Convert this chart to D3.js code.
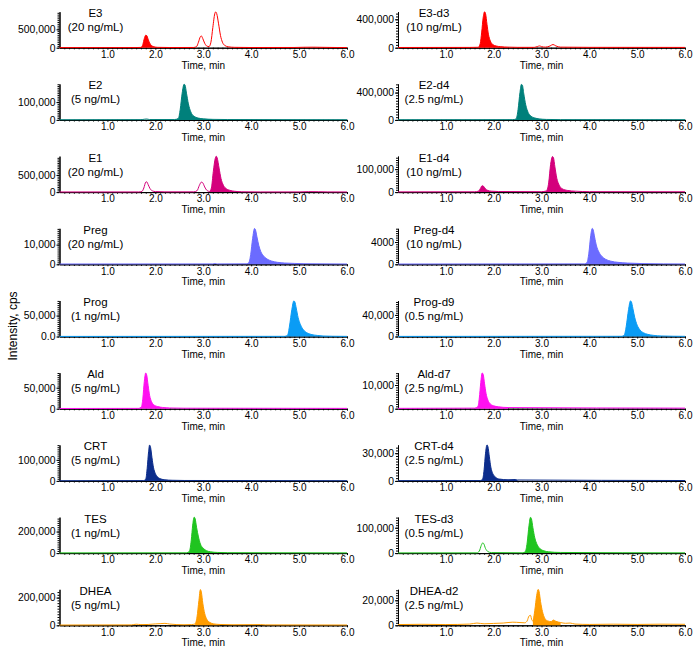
<!DOCTYPE html>
<html>
<head>
<meta charset="utf-8">
<script src="https://cdn.jsdelivr.net/npm/d3@7"></script>
<style>
body { margin: 0; background: #fff; }
text { font-family: "Liberation Sans", Arial, sans-serif; fill: #000; }
</style>
</head>
<body>
<script>
// SVG Dimensions
var width = 694;
var height = 647;
var colLeft = [59.5, 398];
var colRight = [347, 685];
var baseline0 = 47.7;
var rowStep = 72.2;
var plotHeight = 36;

// panels, row by row (analyte left, internal standard right)
var panelNames = ["E3", "E3-d3", "E2", "E2-d4", "E1", "E1-d4", "Preg", "Preg-d4", "Prog", "Prog-d9",
                  "Ald", "Ald-d7", "CRT", "CRT-d4", "TES", "TES-d3", "DHEA", "DHEA-d2"];
var panelConc = ["(20 ng/mL)", "(10 ng/mL)", "(5 ng/mL)", "(2.5 ng/mL)", "(20 ng/mL)", "(10 ng/mL)",
                 "(20 ng/mL)", "(10 ng/mL)", "(1 ng/mL)", "(0.5 ng/mL)", "(5 ng/mL)", "(2.5 ng/mL)",
                 "(5 ng/mL)", "(2.5 ng/mL)", "(1 ng/mL)", "(0.5 ng/mL)", "(5 ng/mL)", "(2.5 ng/mL)"];
var panelColors = ["#ff0000", "#ff0000", "#00807b", "#00807b", "#d4007c", "#d4007c", "#6b6bff", "#6b6bff",
                   "#0a9cf5", "#0a9cf5", "#ff10f0", "#ff10f0", "#0c2d8c", "#0c2d8c", "#20c420", "#20c420",
                   "#ff9c00", "#ff9c00"];
var yMaxValues = [980000, 507000, 202000, 527000, 1050000, 157000, 18300, 6470, 86000, 66700,
                  85700, 15200, 171000, 39000, 334000, 142000, 260000, 28800];
var yTickValues = [500000, 400000, 100000, 400000, 500000, 100000, 10000, 4000, 50000, 40000,
                   50000, 10000, 100000, 30000, 200000, 100000, 200000, 20000];
var yTickLabels = ["500,000", "400,000", "100,000", "400,000", "500,000", "100,000", "10,000", "4000",
                   "50,000", "40,000", "50,000", "10,000", "100,000", "30,000", "200,000", "100,000",
                   "200,000", "20,000"];
var zeroLabels = ["0", "0", "0", "0", "0", "0", "0", "0", "0.0", "0", "0", "0", "0", "0", "0", "0", "0", "0"];
var xTickValues = [1, 2, 3, 4, 5, 6];

// integrated (filled) time windows, min
var fillRanges = [[[1.68, 2.2]], [[1.65, 2.4]], [[2.4, 3.3]], [[2.4, 3.3]], [[3.13, 3.8]], [[1.6, 2.1], [3.0, 3.8]],
                  [[3.9, 5.2]], [[3.9, 5.2]], [[4.7, 5.8]], [[4.68, 5.7]], [[1.65, 2.4]], [[1.6, 2.3]],
                  [[1.75, 2.6]], [[1.72, 2.5]], [[2.65, 3.5]], [[2.6, 3.5]], [[2.8, 3.4]], [[2.82, 3.4]]];

// chromatogram traces: [time (min), intensity (cps)]
var traceE3 = [[0,3e3],[1.6,4e3],[1.70,8e3],[1.74,90e3],[1.77,250e3],[1.80,340e3],[1.82,330e3],[1.85,230e3],
  [1.88,130e3],[1.92,60e3],[1.97,25e3],[2.05,10e3],[2.3,5e3],[2.8,6e3],[2.86,30e3],[2.90,150e3],[2.94,300e3],
  [2.96,320e3],[2.99,250e3],[3.03,120e3],[3.08,40e3],[3.12,30e3],[3.16,150e3],[3.20,550e3],[3.24,920e3],
  [3.26,975e3],[3.28,930e3],[3.32,650e3],[3.36,330e3],[3.40,150e3],[3.45,60e3],[3.52,25e3],[3.65,10e3],
  [4.0,5e3],[4.9,6e3],[5.1,12e3],[5.3,14e3],[5.5,10e3],[5.8,5e3],[6,4e3]];
var traceE3d3 = [[0,3e3],[1.5,4e3],[1.68,6e3],[1.72,60e3],[1.75,220e3],[1.78,420e3],[1.81,505e3],[1.83,480e3],
  [1.86,330e3],[1.89,190e3],[1.93,95e3],[1.98,45e3],[2.05,24e3],[2.15,14e3],[2.3,8e3],[2.5,5e3],[2.85,5e3],
  [2.92,18e3],[2.96,25e3],[3.0,15e3],[3.08,8e3],[3.18,25e3],[3.24,45e3],[3.3,25e3],[3.4,8e3],[4,5e3],[6,4e3]];
var traceE2 = [[0,1e3],[1.7,1.5e3],[1.78,4e3],[1.82,5e3],[1.88,2e3],[2.4,2e3],[2.48,8e3],[2.52,60e3],
  [2.56,150e3],[2.60,200e3],[2.62,195e3],[2.65,150e3],[2.69,90e3],[2.74,45e3],[2.8,22e3],[2.9,10e3],
  [3.0,6e3],[3.2,3e3],[3.5,2e3],[6,1e3]];
var traceE2d4 = [[0,3e3],[2.4,4e3],[2.47,15e3],[2.51,150e3],[2.55,400e3],[2.58,520e3],[2.60,510e3],
  [2.63,380e3],[2.67,220e3],[2.72,110e3],[2.78,55e3],[2.86,28e3],[2.95,15e3],[3.1,7e3],[3.4,4e3],[6,3e3]];
var traceE1 = [[0,4e3],[1.65,5e3],[1.72,20e3],[1.76,120e3],[1.80,290e3],[1.82,300e3],[1.85,220e3],[1.89,100e3],
  [1.94,35e3],[2.0,15e3],[2.2,8e3],[2.8,8e3],[2.87,40e3],[2.92,200e3],[2.96,290e3],[2.99,270e3],[3.03,150e3],
  [3.08,45e3],[3.13,20e3],[3.17,120e3],[3.21,600e3],[3.25,980e3],[3.27,1045e3],[3.29,1000e3],[3.33,700e3],
  [3.37,400e3],[3.42,200e3],[3.48,100e3],[3.56,50e3],[3.65,25e3],[3.8,10e3],[4.2,5e3],[5.0,6e3],[5.2,14e3],
  [5.4,12e3],[5.6,6e3],[6,4e3]];
var traceE1d4 = [[0,1e3],[1.6,1.5e3],[1.68,4e3],[1.72,15e3],[1.76,28e3],[1.79,25e3],[1.83,14e3],[1.88,7e3],
  [1.95,4e3],[2.1,2.5e3],[3.0,2e3],[3.1,5e3],[3.15,40e3],[3.19,120e3],[3.23,155e3],[3.25,150e3],[3.28,110e3],
  [3.32,60e3],[3.37,30e3],[3.43,15e3],[3.55,7e3],[3.7,4e3],[4,2e3],[6,1.5e3]];
var tracePreg = [[0,150],[3.2,200],[3.25,400],[3.3,200],[3.9,250],[3.95,800],[3.99,5000],[4.03,13000],
  [4.07,18200],[4.09,17500],[4.12,14000],[4.16,9500],[4.2,6500],[4.26,4200],[4.33,2700],[4.42,1700],
  [4.55,1000],[4.7,650],[4.9,450],[5.1,300],[6,150]];
var tracePregd4 = [[0,50],[3.9,80],[3.95,300],[3.99,2000],[4.03,5200],[4.06,6450],[4.08,6200],[4.11,4900],
  [4.15,3300],[4.2,2200],[4.26,1450],[4.34,900],[4.45,560],[4.6,350],[4.8,220],[5.1,130],[6,60]];
var traceProg = [[0,200],[4.7,400],[4.76,3e3],[4.8,25e3],[4.85,65e3],[4.89,85e3],[4.91,83e3],[4.94,68e3],
  [4.98,45e3],[5.03,28e3],[5.09,16e3],[5.16,9e3],[5.25,5e3],[5.38,2.5e3],[5.5,1.2e3],[5.7,600],[6,300]];
var traceProgd9 = [[0,200],[4.68,400],[4.73,2.5e3],[4.77,18e3],[4.82,50e3],[4.86,66e3],[4.88,64e3],
  [4.91,52e3],[4.95,35e3],[5.0,21e3],[5.06,12e3],[5.13,7e3],[5.22,4e3],[5.35,2e3],[5.5,1e3],[6,300]];
var traceAld = [[0,500],[1.65,800],[1.71,4e3],[1.74,25e3],[1.77,65e3],[1.80,85e3],[1.82,80e3],[1.85,55e3],
  [1.88,32e3],[1.92,17e3],[1.97,9e3],[2.05,5e3],[2.15,3e3],[2.3,1.8e3],[2.6,1.2e3],[6,800]];
var traceAldd7 = [[0,150],[1.6,250],[1.67,900],[1.70,4500],[1.73,11000],[1.76,15100],[1.78,14500],
  [1.81,10500],[1.84,6500],[1.88,3600],[1.93,2000],[2.0,1200],[2.1,800],[2.3,500],[6,250]];
var traceCRT = [[0,1e3],[1.75,1.5e3],[1.80,8e3],[1.83,60e3],[1.86,140e3],[1.88,170e3],[1.90,160e3],
  [1.93,110e3],[1.96,65e3],[2.0,35e3],[2.05,18e3],[2.12,9e3],[2.2,5e3],[2.35,3e3],[2.6,2e3],[6,1e3]];
var traceCRTd4 = [[0,300],[1.72,400],[1.77,2e3],[1.80,12e3],[1.83,30e3],[1.86,39e3],[1.88,37e3],[1.91,26e3],
  [1.94,15e3],[1.98,8e3],[2.04,4e3],[2.12,2e3],[2.3,1.2e3],[2.45,1.5e3],[2.5,1e3],[6,400]];
var traceTES = [[0,2e3],[2.65,3e3],[2.71,15e3],[2.75,120e3],[2.78,260e3],[2.81,333e3],[2.83,320e3],
  [2.86,240e3],[2.9,150e3],[2.94,85e3],[3.0,45e3],[3.07,22e3],[3.15,12e3],[3.3,6e3],[3.5,4e3],[6,2e3]];
var traceTESd3 = [[0,800],[1.65,1e3],[1.7,8e3],[1.74,30e3],[1.77,40e3],[1.79,38e3],[1.83,18e3],[1.88,6e3],
  [1.95,2e3],[2.6,1.2e3],[2.66,5e3],[2.7,40e3],[2.74,110e3],[2.77,141e3],[2.79,135e3],[2.82,100e3],
  [2.86,60e3],[2.91,33e3],[2.97,17e3],[3.05,9e3],[3.15,5e3],[3.4,2.5e3],[6,1e3]];
var traceDHEA = [[0,2e3],[1.5,3e3],[1.6,8e3],[1.7,5e3],[1.85,6e3],[2.0,10e3],[2.1,12e3],[2.2,14e3],[2.3,9e3],
  [2.45,5e3],[2.6,4e3],[2.75,5e3],[2.83,10e3],[2.87,60e3],[2.91,180e3],[2.94,258e3],[2.96,240e3],[2.99,160e3],
  [3.03,85e3],[3.08,40e3],[3.14,20e3],[3.22,10e3],[3.35,6e3],[3.6,4e3],[4.2,5e3],[4.3,3e3],[6,2e3]];
var traceDHEAd2 = [[0,600],[0.5,800],[1.0,600],[1.5,1000],[1.65,1800],[1.8,1200],[2.0,1500],[2.2,1800],
  [2.4,2500],[2.55,2200],[2.65,2000],[2.7,3500],[2.74,7500],[2.77,8000],[2.80,4000],[2.82,3500],[2.86,12000],
  [2.90,24000],[2.93,28700],[2.95,27000],[2.98,19000],[3.02,11000],[3.07,5500],[3.13,3500],[3.2,3000],
  [3.25,4200],[3.3,3200],[3.4,2200],[3.5,1600],[3.6,1800],[3.7,1000],[4.0,700],[4.5,900],[5.0,700],
  [5.5,900],[6,800]];

var traces = [traceE3, traceE3d3, traceE2, traceE2d4, traceE1, traceE1d4, tracePreg, tracePregd4,
              traceProg, traceProgd9, traceAld, traceAldd7, traceCRT, traceCRTd4, traceTES, traceTESd3,
              traceDHEA, traceDHEAd2];

var svg = d3.select("body").append("svg")
            .attr("width", width)
            .attr("height", height);

svg.append("text")
   .attr("transform", "translate(17, 326) rotate(-90)")
   .attr("text-anchor", "middle")
   .attr("font-size", "12px")
   .text("Intensity, cps");

panelNames.forEach(function(name, i) {
    var row = Math.floor(i / 2);
    var col = i % 2;
    var base = baseline0 + row * rowStep;
    var x = d3.scaleLinear().domain([0, 6]).range([colLeft[col], colRight[col]]);
    var y = d3.scaleLinear().domain([0, yMaxValues[i]]).range([base, base - plotHeight]);
    var g = svg.append("g").attr("class", "panel");

    // x axis: minor ticks every 0.1 min, major every 1 min
    var minorX = d3.range(1, 60).filter(d => d % 10 !== 0).map(d => d / 10);
    g.append("g")
     .attr("transform", "translate(0," + base + ")")
     .call(d3.axisBottom(x).tickValues(minorX).tickSize(1.6).tickSizeOuter(0).tickFormat(""));
    var xa = g.append("g")
     .attr("transform", "translate(0," + base + ")")
     .call(d3.axisBottom(x).tickValues(xTickValues).tickSize(2).tickSizeOuter(0).tickPadding(1.2)
           .tickFormat(d3.format(".1f")));
    xa.selectAll("text").attr("font-size", "10px").attr("font-family", null);

    // y axis
    var minorStep = yTickValues[i] / 10;
    g.append("g")
     .attr("transform", "translate(" + colLeft[col] + ",0)")
     .call(d3.axisLeft(y).tickValues(d3.range(0, yMaxValues[i], minorStep)).tickSize(2).tickSizeOuter(0).tickFormat(""));
    var ya = g.append("g")
     .attr("transform", "translate(" + colLeft[col] + ",0)")
     .call(d3.axisLeft(y).tickValues([0, yTickValues[i]]).tickSize(3).tickSizeOuter(0).tickPadding(1)
           .tickFormat((d, k) => k === 0 ? zeroLabels[i] : yTickLabels[i]));
    ya.selectAll("text").attr("font-size", "10.4px").attr("font-family", null);

    g.append("text")
     .attr("x", (colLeft[col] + colRight[col]) / 2)
     .attr("y", base + 21)
     .attr("text-anchor", "middle")
     .attr("font-size", "10px")
     .text("Time, min");

    // peak label
    var labelX = colLeft[col] + 36;
    g.append("text").attr("x", labelX).attr("y", base - 30.5)
     .attr("text-anchor", "middle").attr("font-size", "11.5px").text(name);
    g.append("text").attr("x", labelX).attr("y", base - 16.5)
     .attr("text-anchor", "middle").attr("font-size", "11.5px").text(panelConc[i]);

    // chromatogram
    var line = d3.line().x(d => x(d[0])).y(d => y(d[1])).curve(d3.curveMonotoneX);
    var area = d3.area().x(d => x(d[0])).y0(base).y1(d => y(d[1])).curve(d3.curveMonotoneX);
    fillRanges[i].forEach(function(r) {
        g.append("path")
         .datum(traces[i].filter(p => p[0] >= r[0] && p[0] <= r[1]))
         .attr("d", area)
         .attr("fill", panelColors[i]);
    });
    g.append("path")
     .datum(traces[i])
     .attr("d", line)
     .attr("fill", "none")
     .attr("stroke", panelColors[i])
     .attr("stroke-width", 1);
});
</script>
</body>
</html>
